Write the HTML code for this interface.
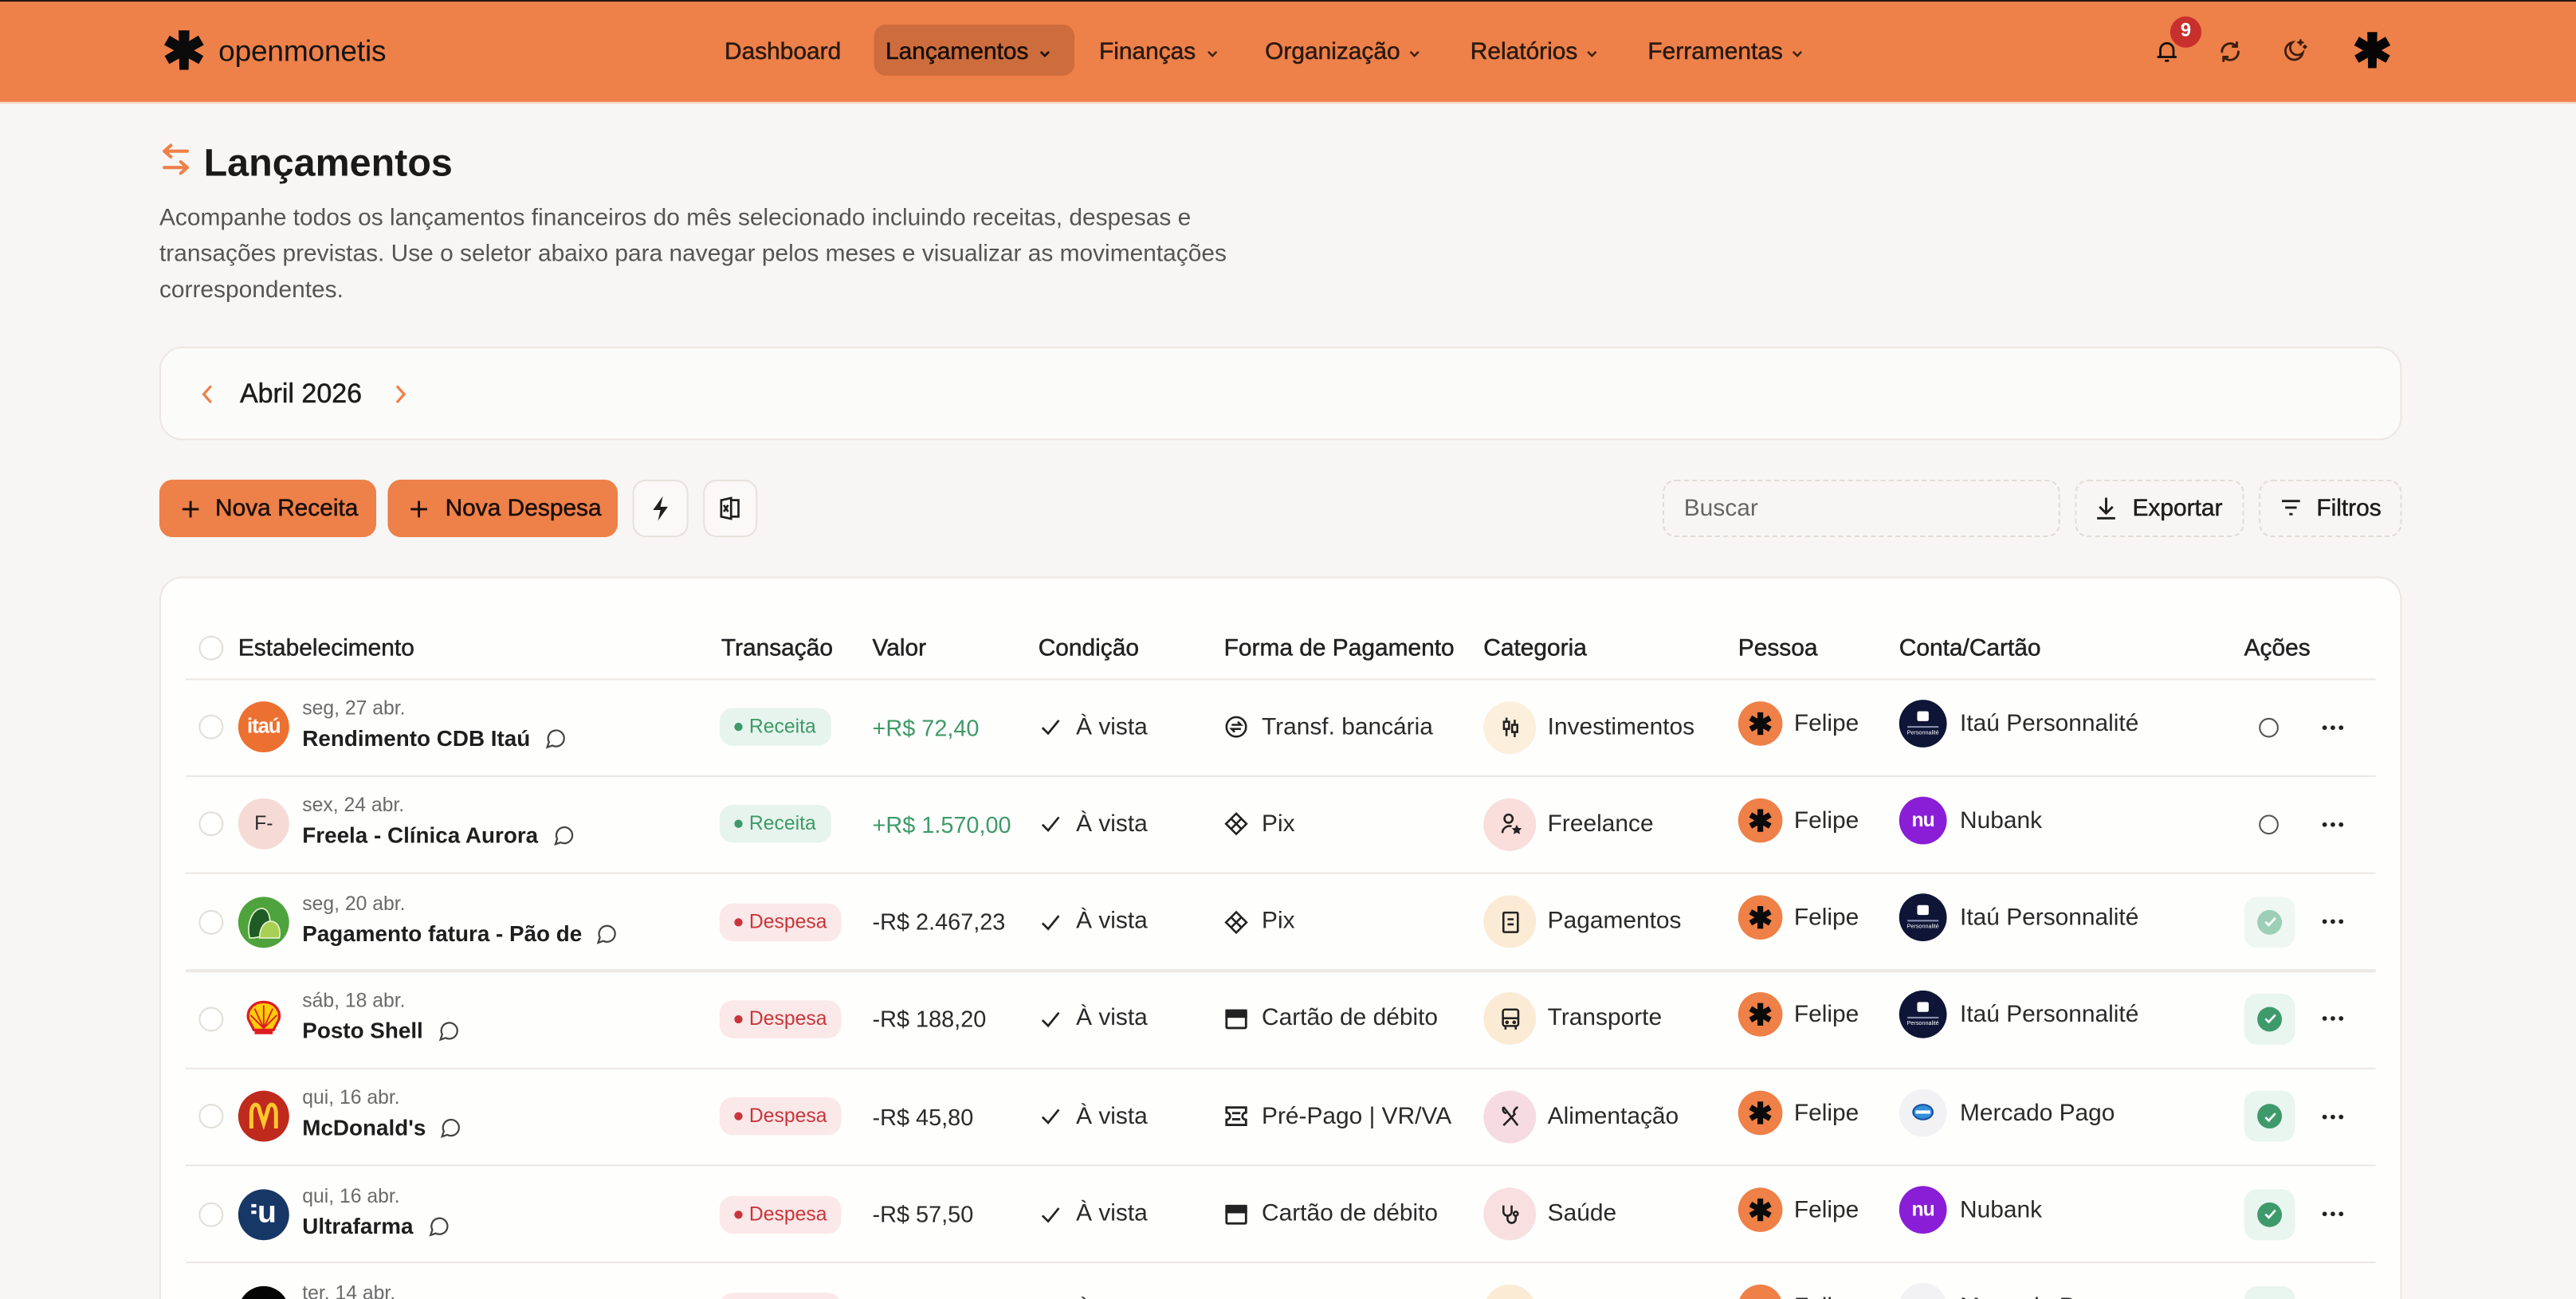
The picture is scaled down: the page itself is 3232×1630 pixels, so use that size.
<!DOCTYPE html>
<html><head><meta charset="utf-8">
<style>
html,body{margin:0;padding:0;width:3232px;height:1630px;overflow:hidden;background:#F7F6F4;font-family:"Liberation Sans",Arial,sans-serif;}
#s{position:absolute;left:0;top:0;width:1568px;height:791px;transform:scale(2.06122);transform-origin:0 0;overflow:hidden;background:#F7F6F4;}
.a{position:absolute;white-space:nowrap;}
.med{-webkit-text-stroke:0.25px currentColor;}
.nav{top:22px;line-height:20px;font-size:14.5px;color:#2A1A12;}
.chev{position:absolute;top:30px;}
.btn{top:292px;height:35px;border-radius:8px;box-sizing:border-box;}
.row{position:absolute;left:0;width:1568px;height:59px;}
.sep{position:absolute;left:113px;width:1333px;height:1.2px;background:#ECE8E4;}
.cb{position:absolute;left:121px;top:22px;width:15px;height:15px;border-radius:50%;border:1px solid #E2DED9;box-sizing:border-box;background:#fff;}
.av{position:absolute;left:145px;top:14px;width:31px;height:31px;border-radius:50%;overflow:hidden;text-align:center;}
.dt{position:absolute;left:184px;top:11px;line-height:14px;font-size:12px;color:#6A6A6A;white-space:nowrap;}
.nm{position:absolute;left:184px;top:28px;line-height:18px;font-size:13.5px;font-weight:bold;color:#1E1E1E;white-space:nowrap;}
.nm svg{vertical-align:-2px;margin-left:9px;}
.bd{position:absolute;left:438px;top:18px;height:23px;line-height:23px;border-radius:8px;font-size:12px;padding:0 9px 0 18px;white-space:nowrap;}
.bd i{position:absolute;left:9px;top:9px;width:5px;height:5px;border-radius:50%;}
.rc{background:#E7F4ED;color:#3E9A68;}
.rc i{background:#3E9A68;}
.dp{background:#FBE8E8;color:#C8353A;}
.dp i{background:#C8353A;}
.tx{position:absolute;top:19.6px;line-height:20px;font-size:14.5px;color:#2A2A2A;white-space:nowrap;}
.vl{left:531px;font-size:14px;}
.ic{position:absolute;}
.cc{position:absolute;left:903px;top:13.6px;width:32px;height:32px;border-radius:50%;}
.cc svg{position:absolute;left:8.5px;top:8.5px;}
.pa{position:absolute;left:1058px;top:13.6px;width:27px;height:27px;border-radius:50%;background:#EE8048;}
.pa svg{position:absolute;left:6px;top:6px;}
.pn{top:17.5px;}
.ca{position:absolute;left:1156px;top:12.5px;width:29px;height:29px;border-radius:50%;overflow:hidden;}
.acb{position:absolute;left:1366px;top:14px;width:31px;height:31px;border-radius:8px;background:#E9F5EF;}
.acb b{position:absolute;left:8px;top:8px;width:15px;height:15px;border-radius:50%;background:#3F9A6B;}
.acb b svg{position:absolute;left:3.5px;top:3.5px;}
.aco{position:absolute;left:1375px;top:23.6px;width:12px;height:12px;border-radius:50%;border:1.3px solid #555;box-sizing:border-box;}
.dots{position:absolute;left:1413px;top:27.6px;}
.hd{position:absolute;top:385px;line-height:20px;font-size:14.5px;color:#222;white-space:nowrap;}
</style></head>
<body>
<div id="s">

<!-- HEADER -->
<div class="a" style="left:0;top:0;width:1568px;height:62px;background:#EE8049;border-bottom:1px solid #F2D9C8;"></div>
<div class="a" style="left:0;top:0;width:1568px;height:1.3px;background:#2A1712;"></div>

<!-- logo -->
<svg class="a" style="left:100px;top:18px" width="24" height="25" viewBox="-12 -12.5 24 25">
 <g fill="#0B0B0B">
  <path d="M-3.3 -12 L3.3 -12 L2.8 12 L-2.8 12Z"/>
  <path d="M-3.3 -12 L3.3 -12 L2.8 12 L-2.8 12Z" transform="rotate(60)"/>
  <path d="M-3.3 -12 L3.3 -12 L2.8 12 L-2.8 12Z" transform="rotate(-60)"/>
 </g>
</svg>
<div class="a" style="left:133px;top:19.5px;line-height:22px;font-size:18px;color:#141414;letter-spacing:-0.1px;">openmonetis</div>

<!-- nav -->
<div class="a" style="left:532px;top:15px;width:122px;height:31px;border-radius:7px;background:#CD6D3E;"></div>
<div class="a nav med" style="left:441px;">Dashboard</div>
<div class="a nav med" style="left:539px;color:#1A0E08;">Lançamentos</div>
<svg class="chev" style="left:632px" width="8" height="6" viewBox="0 0 8 6"><path d="M1.5 1.5 L4 4 L6.5 1.5" stroke="#1A0E08" stroke-width="1.3" fill="none"/></svg>
<div class="a nav med" style="left:669px;">Finanças</div>
<svg class="chev" style="left:734px" width="8" height="6" viewBox="0 0 8 6"><path d="M1.5 1.5 L4 4 L6.5 1.5" stroke="#3A2012" stroke-width="1.2" fill="none"/></svg>
<div class="a nav med" style="left:770px;">Organização</div>
<svg class="chev" style="left:857px" width="8" height="6" viewBox="0 0 8 6"><path d="M1.5 1.5 L4 4 L6.5 1.5" stroke="#3A2012" stroke-width="1.2" fill="none"/></svg>
<div class="a nav med" style="left:895px;">Relatórios</div>
<svg class="chev" style="left:965px" width="8" height="6" viewBox="0 0 8 6"><path d="M1.5 1.5 L4 4 L6.5 1.5" stroke="#3A2012" stroke-width="1.2" fill="none"/></svg>
<div class="a nav med" style="left:1003px;">Ferramentas</div>
<svg class="chev" style="left:1090px" width="8" height="6" viewBox="0 0 8 6"><path d="M1.5 1.5 L4 4 L6.5 1.5" stroke="#3A2012" stroke-width="1.2" fill="none"/></svg>

<!-- right icons -->
<svg class="a" style="left:1311px;top:23px" width="16" height="16" viewBox="0 0 24 24" fill="none" stroke="#0E0E0E" stroke-width="2" stroke-linecap="round"><path d="M6 17V11a6 6 0 0 1 12 0v6"/><path d="M4 17.5h16"/><path d="M11 21h2"/></svg>
<div class="a" style="left:1321px;top:10px;width:19px;height:19px;border-radius:50%;background:#C8302E;color:#fff;font-size:11.5px;font-weight:bold;line-height:19px;text-align:center;">9</div>
<svg class="a" style="left:1350px;top:24px" width="15" height="15" viewBox="0 0 24 24" fill="none" stroke="#3A1E0E" stroke-width="2.2" stroke-linecap="round"><path d="M20 12a8 8 0 0 1-14 5.3"/><path d="M4 12a8 8 0 0 1 14-5.3"/><path d="M18.5 3v4h-4"/><path d="M5.5 21v-4h4"/></svg>
<svg class="a" style="left:1389px;top:22px" width="16" height="17" viewBox="0 0 24 24" fill="none" stroke="#3A1E0E" stroke-width="2" stroke-linecap="round"><path d="M19 14.5A8 8 0 1 1 9.5 5a6 6 0 0 0 9.5 9.5z"/><path d="M17 3v4M15 5h4M21 8v2M20 9h2"/></svg>
<svg class="a" style="left:1433px;top:19px" width="22" height="23" viewBox="-12 -12.5 24 25">
 <g fill="#050505">
  <path d="M-3.3 -12 L3.3 -12 L2.8 12 L-2.8 12Z"/>
  <path d="M-3.3 -12 L3.3 -12 L2.8 12 L-2.8 12Z" transform="rotate(60)"/>
  <path d="M-3.3 -12 L3.3 -12 L2.8 12 L-2.8 12Z" transform="rotate(-60)"/>
 </g>
</svg>

<!-- TITLE -->
<svg class="a" style="left:97px;top:87px" width="20" height="20" viewBox="0 0 20 20" fill="none" stroke="#EE8048" stroke-width="2" stroke-linecap="round" stroke-linejoin="round"><path d="M17 5H3M7 1.5L3 5l4 3.5"/><path d="M3 15h14M13 11.5l4 3.5-4 3.5"/></svg>
<div class="a" style="left:124px;top:84.5px;line-height:28px;font-size:23.5px;font-weight:bold;color:#1A1A1A;">Lançamentos</div>
<div class="a" style="left:97px;top:122px;line-height:22px;font-size:14.5px;color:#555;">Acompanhe todos os lançamentos financeiros do mês selecionado incluindo receitas, despesas e<br>transações previstas. Use o seletor abaixo para navegar pelos meses e visualizar as movimentações<br>correspondentes.</div>

<!-- MONTH CARD -->
<div class="a" style="left:97px;top:211px;width:1365px;height:57px;box-sizing:border-box;border:1px solid #ECE7E2;border-radius:14px;background:#FBFBFA;"></div>
<svg class="a" style="left:122px;top:234px" width="8" height="12" viewBox="0 0 8 12"><path d="M6 1.5L2 6l4 4.5" stroke="#EE8048" stroke-width="1.6" fill="none" stroke-linecap="round"/></svg>
<div class="a med" style="left:146px;top:229px;line-height:22px;font-size:16.5px;color:#1C1C1C;">Abril 2026</div>
<svg class="a" style="left:240px;top:234px" width="8" height="12" viewBox="0 0 8 12"><path d="M2 1.5L6 6l-4 4.5" stroke="#EE8048" stroke-width="1.6" fill="none" stroke-linecap="round"/></svg>

<!-- BUTTONS -->
<div class="a btn" style="left:97px;width:132px;background:#EE8049;"></div>
<svg class="a" style="left:110px;top:304px" width="12" height="12" viewBox="0 0 12 12"><path d="M6 1v10M1 6h10" stroke="#1A0E08" stroke-width="1.4"/></svg>
<div class="a med" style="left:131px;top:300px;line-height:20px;font-size:14.5px;color:#1A0E08;">Nova Receita</div>
<div class="a btn" style="left:236px;width:140px;background:#EE8049;"></div>
<svg class="a" style="left:249px;top:304px" width="12" height="12" viewBox="0 0 12 12"><path d="M6 1v10M1 6h10" stroke="#1A0E08" stroke-width="1.4"/></svg>
<div class="a med" style="left:271px;top:300px;line-height:20px;font-size:14.5px;color:#1A0E08;">Nova Despesa</div>
<div class="a btn" style="left:385px;width:34px;border:1px solid #E7E2DD;background:#FAF9F8;"></div>
<svg class="a" style="left:395px;top:301px" width="14" height="17" viewBox="0 0 14 17"><path d="M8.5 1L2.5 9.5h4.5L5.5 16l6-8.5H7z" fill="#1E1E1E"/></svg>
<div class="a btn" style="left:428px;width:33px;border:1px solid #E7E2DD;background:#FAF9F8;"></div>
<svg class="a" style="left:437px;top:302px" width="15" height="15" viewBox="0 0 15 15" fill="none" stroke="#1E1E1E" stroke-width="1.3"><path d="M2 2.5l6-1.3v12.6l-6-1.3z"/><path d="M8 2.5h4.5v10H8"/><path d="M3.6 5.5l2.6 4M6.2 5.5l-2.6 4"/></svg>

<div class="a btn" style="left:1012px;width:242px;border:1px dashed #E0DBD5;background:#F7F6F4;"></div>
<div class="a" style="left:1025px;top:300px;line-height:20px;font-size:14.5px;color:#666;">Buscar</div>
<div class="a btn" style="left:1263px;width:103px;border:1px dashed #E0DBD5;background:#F7F6F4;"></div>
<svg class="a" style="left:1275px;top:302px" width="14" height="15" viewBox="0 0 14 15" fill="none" stroke="#1E1E1E" stroke-width="1.4"><path d="M7 1v9M3 6.5L7 10.5 11 6.5"/><path d="M1.5 13.5h11"/></svg>
<div class="a med" style="left:1298px;top:300px;line-height:20px;font-size:14.5px;color:#1E1E1E;">Exportar</div>
<div class="a btn" style="left:1375px;width:87px;border:1px dashed #E0DBD5;background:#F7F6F4;"></div>
<svg class="a" style="left:1388px;top:303px" width="13" height="12" viewBox="0 0 13 12" fill="none" stroke="#1E1E1E" stroke-width="1.4"><path d="M1 2h11M3 6h7M5.5 10h2"/></svg>
<div class="a med" style="left:1410px;top:300px;line-height:20px;font-size:14.5px;color:#1E1E1E;">Filtros</div>

<!-- TABLE CARD -->
<div class="a" style="left:97px;top:351px;width:1365px;height:440px;box-sizing:border-box;border:1px solid #ECE7E2;border-bottom:none;border-radius:14px 14px 0 0;background:#FEFEFD;"></div>
<div class="cb" style="top:387px;"></div>
<div class="hd med" style="left:145px;">Estabelecimento</div>
<div class="hd med" style="left:439px;">Transação</div>
<div class="hd med" style="left:531px;">Valor</div>
<div class="hd med" style="left:632px;">Condição</div>
<div class="hd med" style="left:745px;">Forma de Pagamento</div>
<div class="hd med" style="left:903px;">Categoria</div>
<div class="hd med" style="left:1058px;">Pessoa</div>
<div class="hd med" style="left:1156px;">Conta/Cartão</div>
<div class="hd med" style="left:1366px;">Ações</div>

<!-- separators -->
<div class="sep" style="top:412.5px;"></div>
<div class="sep" style="top:471.8px;"></div>
<div class="sep" style="top:531.1px;"></div>
<div class="sep" style="top:590.4px;"></div>
<div class="sep" style="top:649.7px;"></div>
<div class="sep" style="top:709px;"></div>
<div class="sep" style="top:768.3px;"></div>

<!-- ROW 1 -->
<div class="row" style="top:413px;">
 <div class="cb"></div>
 <div class="av" style="background:#EC7030;"><span style="position:absolute;left:0;width:31px;top:8px;line-height:15px;font-size:12.5px;font-weight:bold;color:#fff;letter-spacing:-0.5px;">itaú</span></div>
 <div class="dt">seg, 27 abr.</div>
 <div class="nm">Rendimento CDB Itaú<svg width="13" height="13" viewBox="0 0 24 24" fill="none" stroke="#444" stroke-width="2"><path d="M7.9 20A9 9 0 1 0 4 16.1L2 22Z"/></svg></div>
 <div class="bd rc"><i></i>Receita</div>
 <div class="tx vl" style="color:#3E9A68;">+R$ 72,40</div>
 <svg class="ic" style="left:633px;top:23px" width="13" height="13" viewBox="0 0 13 13"><path d="M1.5 7l3.5 3.5 6.5-8" stroke="#222" stroke-width="1.3" fill="none"/></svg>
 <div class="tx" style="left:655px;">À vista</div>
 <svg class="ic" style="left:745px;top:22px" width="15" height="15" viewBox="0 0 24 24" fill="none" stroke="#222" stroke-width="2"><circle cx="12" cy="12" r="9.5"/><path d="M7.5 10h9l-3-3M16.5 14h-9l3 3"/></svg>
 <div class="tx" style="left:768px;">Transf. bancária</div>
 <div class="cc" style="background:#FCEFDB;"><svg width="15" height="15" viewBox="0 0 24 24" fill="none" stroke="#222" stroke-width="2"><path d="M8 3v18M16 5v17"/><rect x="5.5" y="7" width="5" height="7" fill="#FCEFDB"/><rect x="13.5" y="10" width="5" height="7" fill="#FCEFDB"/></svg></div>
 <div class="tx" style="left:942px;">Investimentos</div>
 <div class="pa"><svg width="15" height="15" viewBox="-12 -12 24 24"><g fill="#0A0A0A"><rect x="-2.8" y="-11" width="5.6" height="22"/><rect x="-2.8" y="-11" width="5.6" height="22" transform="rotate(60)"/><rect x="-2.8" y="-11" width="5.6" height="22" transform="rotate(-60)"/></g></svg></div>
 <div class="tx pn" style="left:1092px;">Felipe</div>
 <div class="ca" style="background:#0E1536;"><div style="position:absolute;left:11px;top:7px;width:7px;height:6px;background:#fff;border-radius:1px;"></div><div style="position:absolute;left:5px;top:16px;width:19px;height:0.8px;background:#8A8FB0;"></div><div style="position:absolute;left:0;width:29px;top:18px;text-align:center;font-size:3.5px;color:#fff;line-height:5px;">Personnalité</div></div>
 <div class="tx pn" style="left:1193px;">Itaú Personnalité</div>
 <div class="aco"></div>
 <svg class="dots" width="14" height="4" viewBox="0 0 14 4"><circle cx="2" cy="2" r="1.4" fill="#222"/><circle cx="7" cy="2" r="1.4" fill="#222"/><circle cx="12" cy="2" r="1.4" fill="#222"/></svg>
</div>

<!-- ROW 2 -->
<div class="row" style="top:472.3px;">
 <div class="cb"></div>
 <div class="av" style="background:#F6DAD6;"><span style="position:absolute;left:0;width:31px;top:8px;line-height:15px;font-size:12px;color:#2A2A2A;">F-</span></div>
 <div class="dt">sex, 24 abr.</div>
 <div class="nm">Freela - Clínica Aurora<svg width="13" height="13" viewBox="0 0 24 24" fill="none" stroke="#444" stroke-width="2"><path d="M7.9 20A9 9 0 1 0 4 16.1L2 22Z"/></svg></div>
 <div class="bd rc"><i></i>Receita</div>
 <div class="tx vl" style="color:#3E9A68;">+R$ 1.570,00</div>
 <svg class="ic" style="left:633px;top:23px" width="13" height="13" viewBox="0 0 13 13"><path d="M1.5 7l3.5 3.5 6.5-8" stroke="#222" stroke-width="1.3" fill="none"/></svg>
 <div class="tx" style="left:655px;">À vista</div>
 <svg class="ic" style="left:745px;top:22px" width="15" height="15" viewBox="0 0 24 24" fill="none" stroke="#222" stroke-width="2"><path d="M12 2l10 10-10 10L2 12z"/><path d="M7 7l5 5 5-5M7 17l5-5 5 5"/></svg>
 <div class="tx" style="left:768px;">Pix</div>
 <div class="cc" style="background:#F9DEDB;"><svg width="15" height="15" viewBox="0 0 24 24" fill="none" stroke="#222" stroke-width="2"><circle cx="10" cy="7" r="4"/><path d="M4 21a7 7 0 0 1 9-6.5"/><path d="M18 14l1.2 2.5 2.6.3-1.9 1.8.5 2.6-2.4-1.3-2.4 1.3.5-2.6-1.9-1.8 2.6-.3z" fill="#222" stroke-width="1"/></svg></div>
 <div class="tx" style="left:942px;">Freelance</div>
 <div class="pa"><svg width="15" height="15" viewBox="-12 -12 24 24"><g fill="#0A0A0A"><rect x="-2.8" y="-11" width="5.6" height="22"/><rect x="-2.8" y="-11" width="5.6" height="22" transform="rotate(60)"/><rect x="-2.8" y="-11" width="5.6" height="22" transform="rotate(-60)"/></g></svg></div>
 <div class="tx pn" style="left:1092px;">Felipe</div>
 <div class="ca" style="background:#8A1ED6;"><span style="position:absolute;left:0;width:29px;top:7px;line-height:14px;text-align:center;font-size:12px;font-weight:bold;color:#fff;letter-spacing:-0.5px;">nu</span></div>
 <div class="tx pn" style="left:1193px;">Nubank</div>
 <div class="aco"></div>
 <svg class="dots" width="14" height="4" viewBox="0 0 14 4"><circle cx="2" cy="2" r="1.4" fill="#222"/><circle cx="7" cy="2" r="1.4" fill="#222"/><circle cx="12" cy="2" r="1.4" fill="#222"/></svg>
</div>

<!-- ROW 3 -->
<div class="row" style="top:531.6px;">
 <div class="cb"></div>
 <div class="av" style="background:#4FA33C;"><svg width="31" height="31" viewBox="0 0 31 31"><path d="M7 25 C5 17 8 8 14 7 C19 7 20 14 19 19 C18 23 13 25 7 25Z" fill="#1F5C25" stroke="#E8F2D0" stroke-width="0.8"/><path d="M13 25 C13 19 16 14 21 15 C25 16 26 21 25 25 Z" fill="#A9CF55" stroke="#E8F2D0" stroke-width="0.8"/></svg></div>
 <div class="dt">seg, 20 abr.</div>
 <div class="nm">Pagamento fatura - Pão de<svg width="13" height="13" viewBox="0 0 24 24" fill="none" stroke="#444" stroke-width="2"><path d="M7.9 20A9 9 0 1 0 4 16.1L2 22Z"/></svg></div>
 <div class="bd dp"><i></i>Despesa</div>
 <div class="tx vl">-R$ 2.467,23</div>
 <svg class="ic" style="left:633px;top:23px" width="13" height="13" viewBox="0 0 13 13"><path d="M1.5 7l3.5 3.5 6.5-8" stroke="#222" stroke-width="1.3" fill="none"/></svg>
 <div class="tx" style="left:655px;">À vista</div>
 <svg class="ic" style="left:745px;top:22px" width="15" height="15" viewBox="0 0 24 24" fill="none" stroke="#222" stroke-width="2"><path d="M12 2l10 10-10 10L2 12z"/><path d="M7 7l5 5 5-5M7 17l5-5 5 5"/></svg>
 <div class="tx" style="left:768px;">Pix</div>
 <div class="cc" style="background:#FBEBD5;"><svg width="15" height="15" viewBox="0 0 24 24" fill="none" stroke="#222" stroke-width="2"><rect x="5" y="2.5" width="14" height="19" rx="1"/><path d="M9 9h6M9 14h6"/></svg></div>
 <div class="tx" style="left:942px;">Pagamentos</div>
 <div class="pa"><svg width="15" height="15" viewBox="-12 -12 24 24"><g fill="#0A0A0A"><rect x="-2.8" y="-11" width="5.6" height="22"/><rect x="-2.8" y="-11" width="5.6" height="22" transform="rotate(60)"/><rect x="-2.8" y="-11" width="5.6" height="22" transform="rotate(-60)"/></g></svg></div>
 <div class="tx pn" style="left:1092px;">Felipe</div>
 <div class="ca" style="background:#0E1536;"><div style="position:absolute;left:11px;top:7px;width:7px;height:6px;background:#fff;border-radius:1px;"></div><div style="position:absolute;left:5px;top:16px;width:19px;height:0.8px;background:#8A8FB0;"></div><div style="position:absolute;left:0;width:29px;top:18px;text-align:center;font-size:3.5px;color:#fff;line-height:5px;">Personnalité</div></div>
 <div class="tx pn" style="left:1193px;">Itaú Personnalité</div>
 <div class="acb" style="background:#EFF7F2;"><b style="background:#9CCFB6;"><svg width="8" height="8" viewBox="0 0 8 8"><path d="M1 4.2l2 2 4-4.4" stroke="#fff" stroke-width="1.3" fill="none"/></svg></b></div>
 <svg class="dots" width="14" height="4" viewBox="0 0 14 4"><circle cx="2" cy="2" r="1.4" fill="#222"/><circle cx="7" cy="2" r="1.4" fill="#222"/><circle cx="12" cy="2" r="1.4" fill="#222"/></svg>
</div>

<!-- ROW 4 -->
<div class="row" style="top:590.9px;">
 <div class="cb"></div>
 <div class="av" style="background:transparent;"><svg width="31" height="31" viewBox="0 0 31 31"><path d="M15.5 5 C9 5 5 10 6.2 15.5 L9.5 22 H21.5 L24.8 15.5 C26 10 22 5 15.5 5Z" fill="#FBCE07" stroke="#DD1D21" stroke-width="1.6"/><path d="M15.5 21V7M15.5 21L10 9M15.5 21L21 9M15.5 21L7.5 13M15.5 21L23.5 13" stroke="#DD1D21" stroke-width="0.9"/><rect x="10" y="22" width="11" height="2.6" fill="#DD1D21"/></svg></div>
 <div class="dt">sáb, 18 abr.</div>
 <div class="nm">Posto Shell<svg width="13" height="13" viewBox="0 0 24 24" fill="none" stroke="#444" stroke-width="2"><path d="M7.9 20A9 9 0 1 0 4 16.1L2 22Z"/></svg></div>
 <div class="bd dp"><i></i>Despesa</div>
 <div class="tx vl">-R$ 188,20</div>
 <svg class="ic" style="left:633px;top:23px" width="13" height="13" viewBox="0 0 13 13"><path d="M1.5 7l3.5 3.5 6.5-8" stroke="#222" stroke-width="1.3" fill="none"/></svg>
 <div class="tx" style="left:655px;">À vista</div>
 <svg class="ic" style="left:745px;top:22px" width="15" height="15" viewBox="0 0 24 24" fill="none" stroke="#222" stroke-width="2.2"><rect x="2.5" y="3.5" width="19" height="17" rx="1"/><rect x="2.5" y="3.5" width="19" height="6" fill="#222"/></svg>
 <div class="tx" style="left:768px;">Cartão de débito</div>
 <div class="cc" style="background:#FBEBD5;"><svg width="15" height="15" viewBox="0 0 24 24" fill="none" stroke="#222" stroke-width="2"><rect x="4.5" y="2.5" width="15" height="16" rx="2"/><path d="M4.5 11h15M7 22v-3.5M17 22v-3.5"/><circle cx="8.5" cy="15" r="0.8" fill="#222"/><circle cx="15.5" cy="15" r="0.8" fill="#222"/></svg></div>
 <div class="tx" style="left:942px;">Transporte</div>
 <div class="pa"><svg width="15" height="15" viewBox="-12 -12 24 24"><g fill="#0A0A0A"><rect x="-2.8" y="-11" width="5.6" height="22"/><rect x="-2.8" y="-11" width="5.6" height="22" transform="rotate(60)"/><rect x="-2.8" y="-11" width="5.6" height="22" transform="rotate(-60)"/></g></svg></div>
 <div class="tx pn" style="left:1092px;">Felipe</div>
 <div class="ca" style="background:#0E1536;"><div style="position:absolute;left:11px;top:7px;width:7px;height:6px;background:#fff;border-radius:1px;"></div><div style="position:absolute;left:5px;top:16px;width:19px;height:0.8px;background:#8A8FB0;"></div><div style="position:absolute;left:0;width:29px;top:18px;text-align:center;font-size:3.5px;color:#fff;line-height:5px;">Personnalité</div></div>
 <div class="tx pn" style="left:1193px;">Itaú Personnalité</div>
 <div class="acb"><b><svg width="8" height="8" viewBox="0 0 8 8"><path d="M1 4.2l2 2 4-4.4" stroke="#fff" stroke-width="1.3" fill="none"/></svg></b></div>
 <svg class="dots" width="14" height="4" viewBox="0 0 14 4"><circle cx="2" cy="2" r="1.4" fill="#222"/><circle cx="7" cy="2" r="1.4" fill="#222"/><circle cx="12" cy="2" r="1.4" fill="#222"/></svg>
</div>

<!-- ROW 5 -->
<div class="row" style="top:650.2px;">
 <div class="cb"></div>
 <div class="av" style="background:#BF2A1D;"><svg width="31" height="31" viewBox="0 0 31 31"><path d="M8 23 V14 C8 7 12.5 7 13 12 L15.5 20 L18 12 C18.5 7 23 7 23 14 V23" stroke="#FFC72C" stroke-width="2.4" fill="none"/></svg></div>
 <div class="dt">qui, 16 abr.</div>
 <div class="nm">McDonald's<svg width="13" height="13" viewBox="0 0 24 24" fill="none" stroke="#444" stroke-width="2"><path d="M7.9 20A9 9 0 1 0 4 16.1L2 22Z"/></svg></div>
 <div class="bd dp"><i></i>Despesa</div>
 <div class="tx vl">-R$ 45,80</div>
 <svg class="ic" style="left:633px;top:23px" width="13" height="13" viewBox="0 0 13 13"><path d="M1.5 7l3.5 3.5 6.5-8" stroke="#222" stroke-width="1.3" fill="none"/></svg>
 <div class="tx" style="left:655px;">À vista</div>
 <svg class="ic" style="left:745px;top:22px" width="15" height="15" viewBox="0 0 24 24" fill="none" stroke="#222" stroke-width="2.2"><path d="M2.5 3.5h19v5a3.5 3.5 0 0 0 0 7v5h-19v-5a3.5 3.5 0 0 0 0-7z"/><path d="M8 9h8M8 15h8"/></svg>
 <div class="tx" style="left:768px;">Pré-Pago | VR/VA</div>
 <div class="cc" style="background:#F6DCE2;"><svg width="15" height="15" viewBox="0 0 24 24" fill="none" stroke="#222" stroke-width="2"><path d="M5 3l14 18"/><path d="M19 3c-3 2-5 5-3 7L5 21"/><path d="M5 3c-1 3 0 6 3 6"/></svg></div>
 <div class="tx" style="left:942px;">Alimentação</div>
 <div class="pa"><svg width="15" height="15" viewBox="-12 -12 24 24"><g fill="#0A0A0A"><rect x="-2.8" y="-11" width="5.6" height="22"/><rect x="-2.8" y="-11" width="5.6" height="22" transform="rotate(60)"/><rect x="-2.8" y="-11" width="5.6" height="22" transform="rotate(-60)"/></g></svg></div>
 <div class="tx pn" style="left:1092px;">Felipe</div>
 <div class="ca" style="background:#F2F2F5;"><div style="position:absolute;left:8px;top:9.5px;width:13px;height:10px;border-radius:50%;background:#2F8FDA;border:1px solid #1A4FA0;box-sizing:border-box;"></div><div style="position:absolute;left:10px;top:13.5px;width:9px;height:2px;background:#fff;"></div></div>
 <div class="tx pn" style="left:1193px;">Mercado Pago</div>
 <div class="acb"><b><svg width="8" height="8" viewBox="0 0 8 8"><path d="M1 4.2l2 2 4-4.4" stroke="#fff" stroke-width="1.3" fill="none"/></svg></b></div>
 <svg class="dots" width="14" height="4" viewBox="0 0 14 4"><circle cx="2" cy="2" r="1.4" fill="#222"/><circle cx="7" cy="2" r="1.4" fill="#222"/><circle cx="12" cy="2" r="1.4" fill="#222"/></svg>
</div>

<!-- ROW 6 -->
<div class="row" style="top:709.5px;">
 <div class="cb"></div>
 <div class="av" style="background:#173766;"><span style="position:absolute;left:2px;width:31px;top:5px;line-height:20px;font-size:19px;font-weight:bold;color:#fff;">u</span><div style="position:absolute;left:8px;top:9px;width:2.5px;height:2.5px;background:#fff;"></div><div style="position:absolute;left:8px;top:13px;width:2.5px;height:2.5px;background:#fff;"></div></div>
 <div class="dt">qui, 16 abr.</div>
 <div class="nm">Ultrafarma<svg width="13" height="13" viewBox="0 0 24 24" fill="none" stroke="#444" stroke-width="2"><path d="M7.9 20A9 9 0 1 0 4 16.1L2 22Z"/></svg></div>
 <div class="bd dp"><i></i>Despesa</div>
 <div class="tx vl">-R$ 57,50</div>
 <svg class="ic" style="left:633px;top:23px" width="13" height="13" viewBox="0 0 13 13"><path d="M1.5 7l3.5 3.5 6.5-8" stroke="#222" stroke-width="1.3" fill="none"/></svg>
 <div class="tx" style="left:655px;">À vista</div>
 <svg class="ic" style="left:745px;top:22px" width="15" height="15" viewBox="0 0 24 24" fill="none" stroke="#222" stroke-width="2.2"><rect x="2.5" y="3.5" width="19" height="17" rx="1"/><rect x="2.5" y="3.5" width="19" height="6" fill="#222"/></svg>
 <div class="tx" style="left:768px;">Cartão de débito</div>
 <div class="cc" style="background:#F8E0E0;"><svg width="15" height="15" viewBox="0 0 24 24" fill="none" stroke="#222" stroke-width="2"><path d="M5 3v6a4 4 0 0 0 8 0V3"/><path d="M9 13v3a4 4 0 0 0 8 0v-3"/><circle cx="17" cy="11" r="2"/></svg></div>
 <div class="tx" style="left:942px;">Saúde</div>
 <div class="pa"><svg width="15" height="15" viewBox="-12 -12 24 24"><g fill="#0A0A0A"><rect x="-2.8" y="-11" width="5.6" height="22"/><rect x="-2.8" y="-11" width="5.6" height="22" transform="rotate(60)"/><rect x="-2.8" y="-11" width="5.6" height="22" transform="rotate(-60)"/></g></svg></div>
 <div class="tx pn" style="left:1092px;">Felipe</div>
 <div class="ca" style="background:#8A1ED6;"><span style="position:absolute;left:0;width:29px;top:7px;line-height:14px;text-align:center;font-size:12px;font-weight:bold;color:#fff;letter-spacing:-0.5px;">nu</span></div>
 <div class="tx pn" style="left:1193px;">Nubank</div>
 <div class="acb"><b><svg width="8" height="8" viewBox="0 0 8 8"><path d="M1 4.2l2 2 4-4.4" stroke="#fff" stroke-width="1.3" fill="none"/></svg></b></div>
 <svg class="dots" width="14" height="4" viewBox="0 0 14 4"><circle cx="2" cy="2" r="1.4" fill="#222"/><circle cx="7" cy="2" r="1.4" fill="#222"/><circle cx="12" cy="2" r="1.4" fill="#222"/></svg>
</div>

<!-- ROW 7 (partial, clipped) -->
<div class="a" style="left:0;top:768.8px;width:1568px;height:22.2px;overflow:hidden;">
 <div class="row" style="top:0;">
  <div class="cb"></div>
  <div class="av" style="background:#050505;"></div>
  <div class="dt">ter, 14 abr.</div>
  <div class="bd dp"><i></i>Despesa</div>
  <div class="tx" style="left:655px;">À vista</div>
  <div class="cc" style="background:#FBEBD5;"></div>
  <div class="pa"></div>
  <div class="tx pn" style="left:1092px;">Felipe</div>
  <div class="ca" style="background:#F2F2F5;"></div>
  <div class="tx pn" style="left:1193px;">Mercado Pago</div>
  <div class="acb"></div>
 </div>
</div>

</div>
</body></html>
